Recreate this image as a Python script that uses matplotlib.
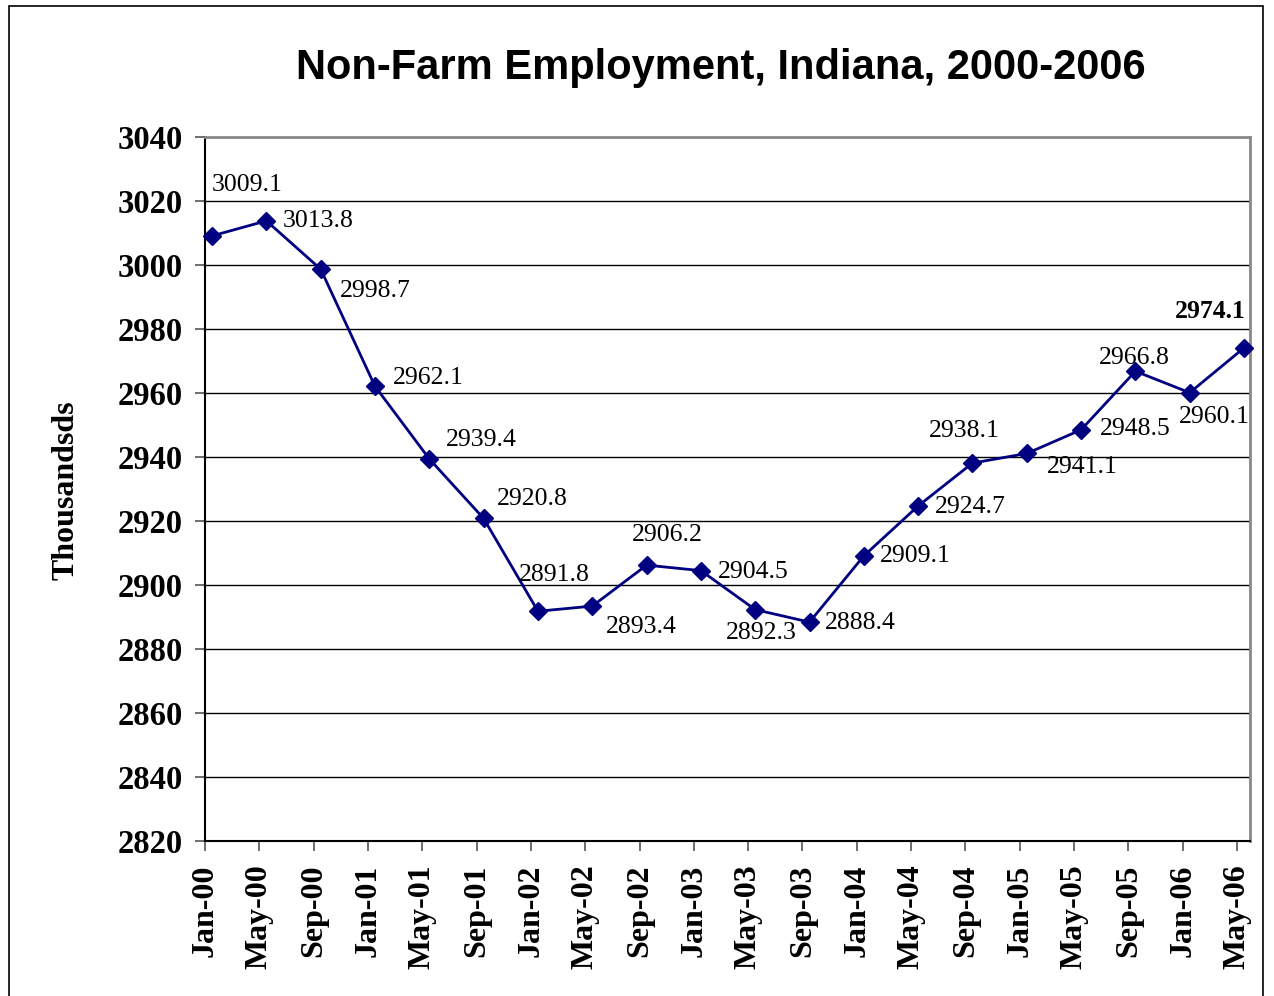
import matplotlib
matplotlib.use("Agg")
import matplotlib.pyplot as plt
from matplotlib.patches import Rectangle
import numpy as np

# monthly non-farm employment, thousands
months = ["Jan-00", "May-00", "Sep-00", "Jan-01", "May-01", "Sep-01", "Jan-02",
          "May-02", "Sep-02", "Jan-03", "May-03", "Sep-03", "Jan-04", "May-04",
          "Sep-04", "Jan-05", "May-05", "Sep-05", "Jan-06", "May-06"]
jobs = [3009.1, 3013.8, 2998.7, 2962.1, 2939.4, 2920.8, 2891.8, 2893.4, 2906.2,
        2904.5, 2892.3, 2888.4, 2909.1, 2924.7, 2938.1, 2941.1, 2948.5, 2966.8,
        2960.1, 2974.1]

# where each value label sits relative to its point (pixels)
lbl_dx = [35, 52, 55, 53, 52, 49, 16, 49, 21, 52, 6, 51, 51, 52, -8, 56, 54, -1, 25, -34]
lbl_dy = [51, 0, -22, 8, 19, 19, 36, -21, 30, -1, -23, -1, 0, -1, 32, -14, 1, 13, -24, 36]

serif = "Liberation Serif"
navy = "#000080"

fig = plt.figure(figsize=(12.74, 9.96), dpi=100)
ax = fig.add_axes([205 / 1274, 1 - 841 / 996, 1045 / 1274, 704 / 996])

x = np.arange(len(jobs))
# points sit a little after the month tick marks
shift = 0.13
ax.plot(x, jobs, color=navy, lw=2, marker="D", ms=9, mfc=navy, mec=navy,
        zorder=3, clip_on=False)

for i, v in enumerate(jobs):
    last = i == len(jobs) - 1
    ax.annotate(f"{v:.1f}", (x[i], v), xytext=(lbl_dx[i], lbl_dy[i]),
                textcoords="offset pixels", ha="center", va="center",
                fontsize=18.5, family=serif,
                fontweight="bold" if last else "normal", zorder=4)

ax.set_xlim(-shift, 19.24 - shift)
ax.set_ylim(2820, 3040)
ax.set_yticks(np.arange(2820, 3041, 20))
ax.set_xticks(x - shift)
ax.set_xticklabels(months, rotation=90)
ax.grid(axis="y", color="black", lw=1)
ax.set_axisbelow(True)

for lab in ax.get_yticklabels():
    lab.set_family(serif)
    lab.set_fontweight("bold")
    lab.set_fontsize(23.5)
for lab in ax.get_xticklabels():
    lab.set_family(serif)
    lab.set_fontweight("bold")
    lab.set_fontsize(23)
ax.tick_params(axis="both", direction="out", length=7, width=1.2, color="#555555")
ax.tick_params(axis="y", pad=9)
ax.tick_params(axis="x", pad=10)

ax.spines["left"].set_color("black")
ax.spines["bottom"].set_color("black")
ax.spines["left"].set_linewidth(1.5)
ax.spines["bottom"].set_linewidth(1.5)
ax.spines["top"].set_color("#888888")
ax.spines["right"].set_color("#888888")
ax.spines["top"].set_linewidth(2)
ax.spines["right"].set_linewidth(2)

fig.text(721 / 1274, 1 - 68 / 996, "Non-Farm Employment, Indiana, 2000-2006",
         ha="center", va="center", fontsize=30, fontweight="bold",
         family="Liberation Sans")
fig.text(66 / 1274, 1 - 490 / 996, "Thousandsds", rotation=90, ha="center",
         va="center", fontsize=23, fontweight="bold", family=serif)

# thin frame round the whole chart
fig.patches.append(Rectangle((9 / 1274, -0.02), 1254 / 1274, 1.02 - 6 / 996,
                             transform=fig.transFigure, fill=False,
                             ec="black", lw=1.2))

fig.savefig("out.png", dpi=100)
